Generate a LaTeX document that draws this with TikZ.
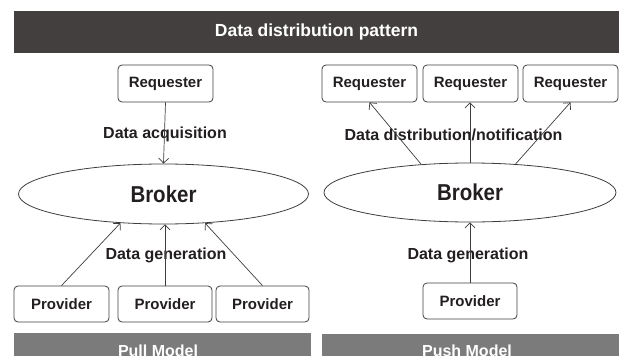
\documentclass[tikz,border=0pt]{standalone}
\usepackage{fontspec}
\setmainfont{Liberation Sans}
\usetikzlibrary{arrows.meta,shapes.geometric}
\definecolor{titlebg}{HTML}{433F3E}
\definecolor{modelbg}{HTML}{7B7B7B}
\definecolor{ink}{HTML}{231F20}
\definecolor{edge}{HTML}{3D3D3D}
\tikzset{
  box/.style={draw=edge, line width=0.8pt, rounded corners=4pt, minimum width=95pt, minimum height=37pt, inner sep=0pt, text=ink, font=\fontsize{15}{18}\selectfont\bfseries},
  brokernode/.style={draw=edge, line width=0.8pt, ellipse, minimum width=290pt, minimum height=60pt, inner sep=0pt, text=ink, font=\fontsize{23}{27}\selectfont\bfseries},
  lbl/.style={text=ink, inner sep=0pt, font=\fontsize{16}{19}\selectfont\bfseries},
  conn/.style={draw=edge, line width=0.7pt, -{Straight Barb[length=5pt,width=10pt,line width=0.7pt]}},
  bartext/.style={text=white, inner sep=0pt, font=\fontsize{16}{19}\selectfont\bfseries},
}
\begin{document}
\begin{tikzpicture}[x=1pt,y=-1pt]
\path[use as bounding box] (0,0) rectangle (619,356);
% title bar
\node[fill=titlebg, minimum width=605pt, minimum height=42pt, inner sep=0pt, text=white, font=\fontsize{17.5}{21}\selectfont\bfseries] (title) at (316.5,32) {Data distribution pattern};
% bottom bars
\fill[modelbg] (14,333) rectangle (311,370);
\fill[modelbg] (322,334) rectangle (625,370);
\node[bartext, anchor=base] (pull) at (158,356.5) {Pull Model};
\node[bartext, anchor=base] (push) at (467,356.5) {Push Model};

% ---- Pull model ----
\node[box] (rq) at (165.5,83.5) {Requester};
\node[brokernode] (bl) at (163.5,194) {\scalebox{0.89}[1]{Broker}};
\node[box, minimum width=95pt, minimum height=36pt] (p1) at (61.5,304) {Provider};
\node[box, minimum width=94pt, minimum height=36pt] (p2) at (165,304) {Provider};
\node[box, minimum width=93pt, minimum height=36pt] (p3) at (262.5,304) {Provider};
\node[lbl] (acq) at (165,134) {Data acquisition};
\node[lbl] (genl) at (166,255) {Data generation};
\draw[conn] (rq.south) -- (bl.north);
\draw[conn] (p1.north) -- (bl.214);
\draw[conn] (p2.north) -- (p2.north |- bl.south);
\draw[conn] (p3.north) -- (bl.325);

% ---- Push model ----
\node[box] (r1) at (369.5,83.5) {Requester};
\node[box] (r2) at (470.5,83.5) {Requester};
\node[box] (r3) at (570.5,83.5) {Requester};
\node[brokernode, minimum width=292pt, minimum height=59pt] (br) at (470,192.5) {\scalebox{0.89}[1]{Broker}};
\node[box, minimum width=94pt, minimum height=36pt] (p4) at (470,301) {Provider};
\node[lbl] (dist) at (453.5,135) {Data distribution/notification};
\node[lbl] (genr) at (468,255) {Data generation};
\draw[conn] (br.150) -- (r1.south);
\draw[conn] (br.north) -- (r2.south -| br.north);
\draw[conn] (br.32) -- (r3.south);
\draw[conn] (p4.north) -- (br.south);
\end{tikzpicture}
\end{document}
